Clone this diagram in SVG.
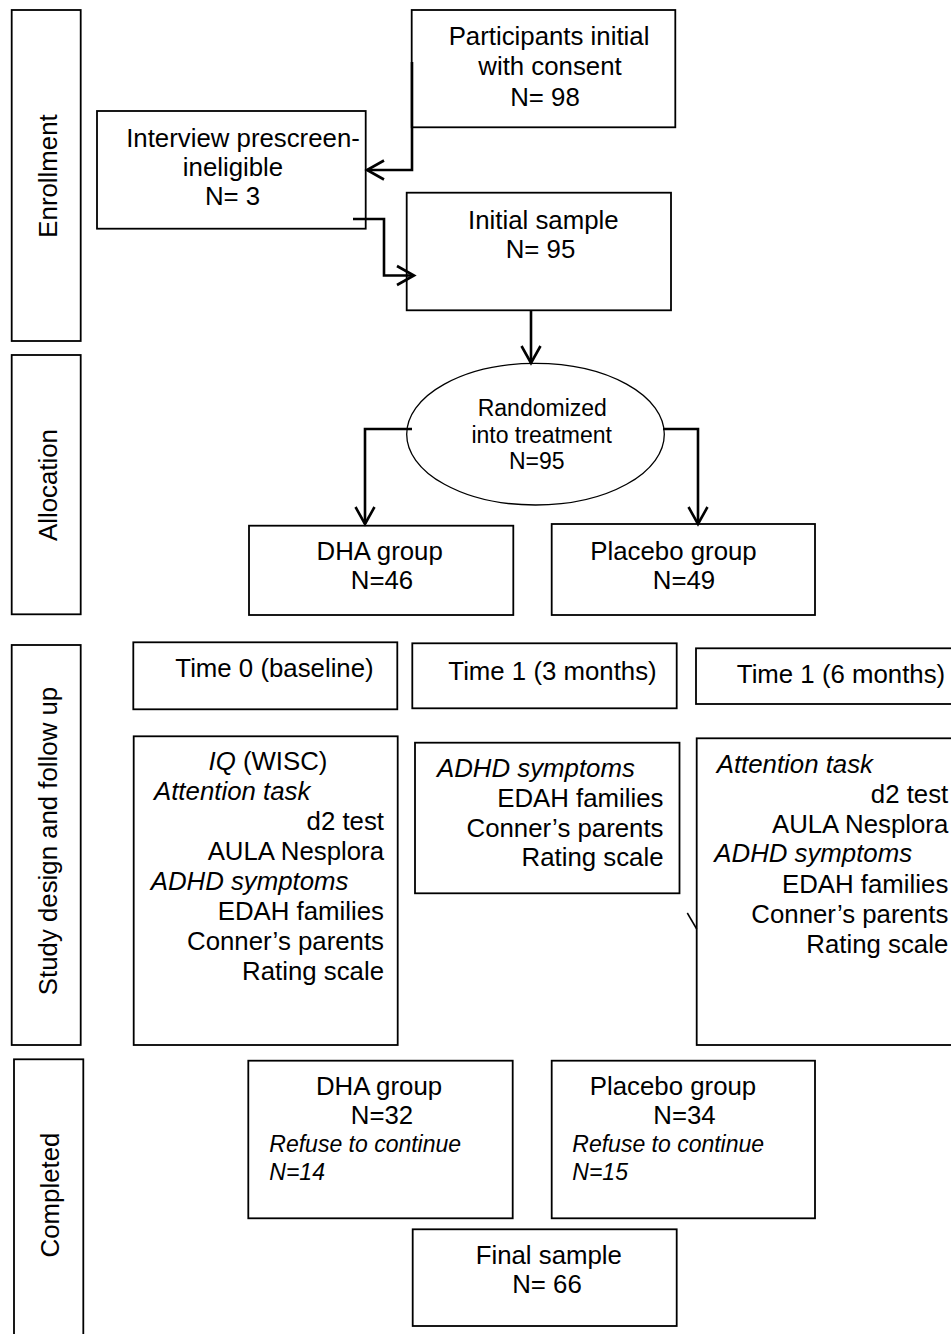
<svg xmlns="http://www.w3.org/2000/svg" width="951" height="1334" viewBox="0 0 951 1334">
<style>
.box{fill:none;stroke:#000;stroke-width:1.8}
.ell{fill:none;stroke:#000;stroke-width:1.3}
.conn{fill:none;stroke:#000;stroke-width:2.6}
text{font-family:"Liberation Sans",Arial,sans-serif;font-size:25.8px;fill:#000}
.c{text-anchor:middle}
.e{text-anchor:end}
.i{font-style:italic}
.s{font-size:23px}
</style>
<defs>
<marker id="ah" markerUnits="userSpaceOnUse" viewBox="-20 -12 24 24" markerWidth="24" markerHeight="24" refX="0" refY="0" orient="auto">
<path d="M-17,-9.5 L0,0 L-17,9.5" fill="none" stroke="#000" stroke-width="2.6"/>
</marker>
</defs>
<rect width="951" height="1334" fill="#fff"/>

<g id="lane-enrollment"><rect class="box" x="11.7" y="10" width="69" height="331"/><text class="c" transform="translate(56.5,176) rotate(-90)">Enrollment</text></g>
<g id="lane-allocation"><rect class="box" x="11.7" y="355" width="69" height="259.3"/><text class="c" transform="translate(56.5,485) rotate(-90)">Allocation</text></g>
<g id="lane-study"><rect class="box" x="11.7" y="645" width="69" height="400"/><text class="c" transform="translate(56.5,841) rotate(-90)">Study design and follow up</text></g>
<g id="lane-completed"><rect class="box" x="14" y="1059.3" width="69.3" height="290"/><text class="c" transform="translate(59,1195) rotate(-90)">Completed</text></g>

<g id="participants"><rect class="box" x="411.7" y="10" width="263.6" height="117.3"/>
<text class="c" x="549" y="45">Participants initial</text><text class="c" x="550" y="74.5">with consent</text><text class="c" x="545" y="105.5">N= 98</text></g>
<g id="interview"><rect class="box" x="97" y="111" width="268.7" height="117.7"/>
<text class="c" x="243" y="147">Interview prescreen-</text><text class="c" x="233" y="176">ineligible</text><text class="c" x="232.5" y="205">N= 3</text></g>
<g id="initial"><rect class="box" x="406.7" y="192.7" width="264.3" height="117.6"/>
<text class="c" x="543.3" y="228.5">Initial sample</text><text class="c" x="540.5" y="257.5">N= 95</text></g>
<g id="randomized"><ellipse class="ell" cx="535.5" cy="434.2" rx="128.8" ry="70.8"/>
<text class="c s" x="542.3" y="416">Randomized</text><text class="c s" x="541.7" y="443">into treatment</text><text class="c s" x="536.8" y="469">N=95</text></g>
<g id="dha-alloc"><rect class="box" x="249" y="525.7" width="264.3" height="89.3"/>
<text class="c" x="379.7" y="560">DHA group</text><text class="c" x="382" y="589.3">N=46</text></g>
<g id="placebo-alloc"><rect class="box" x="551.7" y="524" width="263.3" height="91"/>
<text class="c" x="673.5" y="560">Placebo group</text><text class="c" x="684" y="589.3">N=49</text></g>

<g id="time0"><rect class="box" x="133.3" y="642.3" width="264" height="67"/><text class="c" x="274.5" y="677">Time 0 (baseline)</text></g>
<g id="time1-3"><rect class="box" x="412.3" y="643.3" width="264.4" height="65"/><text class="c" x="552.5" y="679.5">Time 1 (3 months)</text></g>
<g id="time1-6"><rect class="box" x="696" y="648.3" width="270" height="55.7"/><text class="c" x="841" y="682.5">Time 1 (6 months)</text></g>

<g id="time0-content"><rect class="box" x="133.7" y="736.3" width="264" height="308.7"/>
<text class="c" x="268" y="770"><tspan class="i">IQ</tspan> (WISC)</text>
<text class="i" x="154" y="800">Attention task</text>
<text class="e" x="384" y="830">d2 test</text>
<text class="e" x="384" y="860">AULA Nesplora</text>
<text class="i" x="150.7" y="889.5">ADHD symptoms</text>
<text class="e" x="384" y="919.5">EDAH families</text>
<text class="e" x="384" y="949.5">Conner’s parents</text>
<text class="e" x="384" y="980">Rating scale</text></g>

<g id="time1-3-content"><rect class="box" x="415" y="742.7" width="264.5" height="150.6"/>
<text class="i" x="437" y="776.5">ADHD symptoms</text>
<text class="e" x="663.5" y="806.5">EDAH families</text>
<text class="e" x="663.5" y="836.5">Conner’s parents</text>
<text class="e" x="663.5" y="866">Rating scale</text></g>

<g id="time1-6-content"><rect class="box" x="696.7" y="738.3" width="270" height="306.7"/>
<text class="i" x="716.7" y="772.7">Attention task</text>
<text class="e" x="948.3" y="803">d2 test</text>
<text class="e" x="948.3" y="833">AULA Nesplora</text>
<text class="i" x="714.3" y="862">ADHD symptoms</text>
<text class="e" x="948.3" y="892.5">EDAH families</text>
<text class="e" x="948.3" y="922.5">Conner’s parents</text>
<text class="e" x="948.3" y="953">Rating scale</text></g>

<g id="dha-completed"><rect class="box" x="248.3" y="1060.7" width="264.4" height="157.6"/>
<text class="c" x="379" y="1095">DHA group</text><text class="c" x="382" y="1124">N=32</text>
<text class="i s" x="269.3" y="1152">Refuse to continue</text><text class="i s" x="269.3" y="1180">N=14</text></g>
<g id="placebo-completed"><rect class="box" x="551.7" y="1060.7" width="263.3" height="157.6"/>
<text class="c" x="673" y="1095">Placebo group</text><text class="c" x="684.5" y="1124">N=34</text>
<text class="i s" x="572.3" y="1152">Refuse to continue</text><text class="i s" x="572.3" y="1180">N=15</text></g>
<g id="final"><rect class="box" x="412.7" y="1229.3" width="264" height="96.7"/>
<text class="c" x="548.8" y="1264">Final sample</text><text class="c" x="547" y="1292.5">N= 66</text></g>

<g id="connectors">
<path class="conn" d="M412,62 V170 H367" marker-end="url(#ah)"/>
<path class="conn" d="M353,219 H384 V275.5 H414" marker-end="url(#ah)"/>
<path class="conn" d="M531,310 V363" marker-end="url(#ah)"/>
<path class="conn" d="M412,429 H365 V524" marker-end="url(#ah)"/>
<path class="conn" d="M663,429 H698 V524" marker-end="url(#ah)"/>
<path d="M687.3,913 L696.7,929" fill="none" stroke="#000" stroke-width="1.5"/>
</g>
</svg>
